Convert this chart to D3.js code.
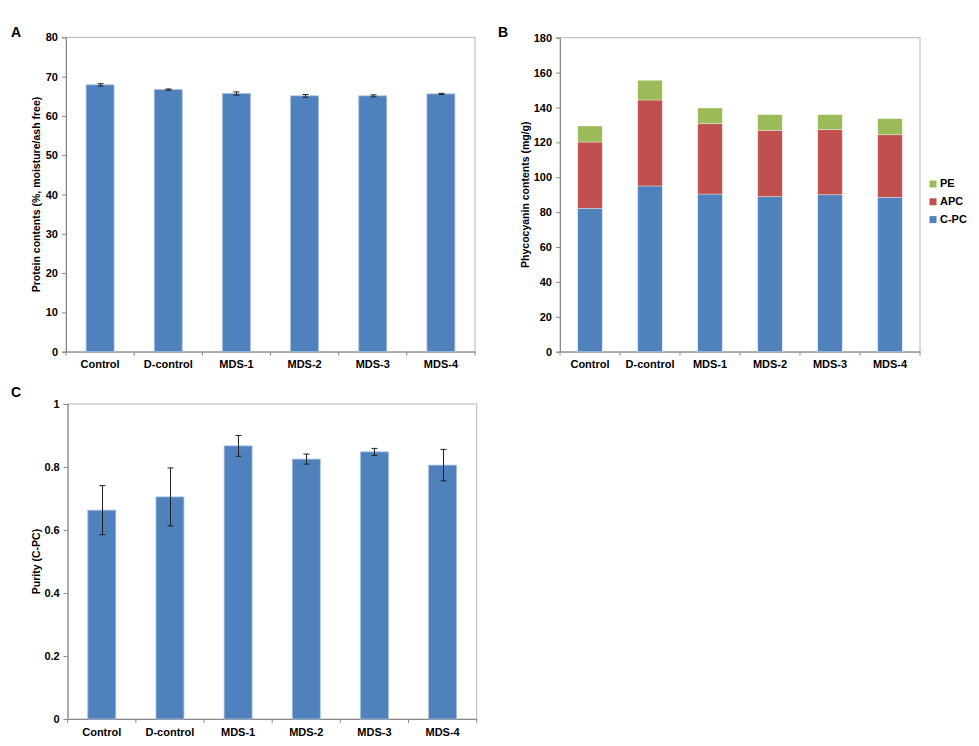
<!DOCTYPE html>
<html><head><meta charset="utf-8">
<script src="https://cdn.jsdelivr.net/npm/d3@7"></script>
<style>body{margin:0;background:#fff}svg{display:block}text{font-family:"Liberation Sans",Arial,sans-serif}</style>
</head><body><svg id="c" width="979" height="746"></svg>
<script>
const categories = ["Control","D-control","MDS-1","MDS-2","MDS-3","MDS-4"];
const proteinValues = [67.9, 66.7, 65.7, 65.1, 65.1, 65.6];
const proteinErrors = [0.3, 0.15, 0.4, 0.35, 0.25, 0.15];
const cpcValues = [82.2, 95.0, 90.4, 88.9, 90.0, 88.5];
const apcValues = [38.0, 49.3, 40.3, 38.0, 37.3, 35.9];
const peValues  = [9.2, 11.3, 9.0, 9.0, 8.6, 9.2];
const purityValues = [0.663, 0.705, 0.867, 0.825, 0.848, 0.806];
const purityErrors = [0.078, 0.092, 0.033, 0.016, 0.011, 0.05];
const ticksA = [0,10,20,30,40,50,60,70,80];
const ticksB = [0,20,40,60,80,100,120,140,160,180];
const ticksC = [0,0.2,0.4,0.6,0.8,1];
const seriesNames = ["C-PC","APC","PE"];
const seriesColors = ["#4F81BD","#C0504D","#9BBB59"];

const svg = d3.select("#c");
const frameColor = "#898989";

function panel(opt){
  const g = svg.append("g");
  const x = d3.scaleBand().domain(categories).range([opt.x0, opt.x1]).paddingInner(0.59).paddingOuter(0.295);
  const y = d3.scaleLinear().domain([0, opt.ymax]).range([opt.y1, opt.y0]);
  // frame
  g.append("rect").attr("x",opt.x0).attr("y",opt.y0).attr("width",opt.x1-opt.x0).attr("height",opt.y1-opt.y0)
    .attr("fill","none").attr("stroke","#b5b5b5").attr("stroke-width",1);
  // y axis
  const ya = g.append("g").attr("transform",`translate(${opt.x0},0)`)
    .call(d3.axisLeft(y).tickValues(opt.ticks).tickSize(4).tickPadding(4).tickFormat(d=>String(d)));
  ya.select(".domain").attr("stroke",frameColor);
  ya.selectAll(".tick line").attr("stroke",frameColor);
  ya.selectAll("text").attr("font-size",11).attr("font-weight","bold").attr("fill","#000");
  // x axis
  const xa = g.append("g").attr("transform",`translate(0,${opt.y1})`)
    .call(d3.axisBottom(x).tickSize(0).tickPadding(9));
  xa.select(".domain").attr("stroke",frameColor);
  xa.selectAll("text").attr("font-size",11).attr("font-weight","bold").attr("fill","#000");
  const step = x.step();
  const bounds = d3.range(categories.length+1).map(i => opt.x0 + i*step);
  g.selectAll(".xt").data(bounds).join("line").attr("x1",d=>d).attr("x2",d=>d)
    .attr("y1",opt.y1).attr("y2",opt.y1+4).attr("stroke",frameColor);
  // y title
  g.append("text").attr("transform",`translate(${opt.titleX},${(opt.y0+opt.y1)/2}) rotate(-90)`)
    .attr("text-anchor","middle").attr("dominant-baseline","middle")
    .attr("font-size",10.5).attr("font-weight","bold").text(opt.title);
  // letter
  g.append("text").attr("x",opt.lx).attr("y",opt.ly).attr("font-size",14).attr("font-weight","bold").text(opt.letter);
  return {g,x,y};
}

function errorBars(g,x,y,vals,errs){
  const cw = 3;
  const eg = g.append("g").attr("stroke","#222").attr("stroke-width",1);
  categories.forEach((c,i)=>{
    const cx = Math.round(x(c)+x.bandwidth()/2)+0.5;
    const t = y(vals[i]+errs[i]), b = y(vals[i]-errs[i]);
    eg.append("line").attr("x1",cx).attr("x2",cx).attr("y1",t).attr("y2",b);
    eg.append("line").attr("x1",cx-cw).attr("x2",cx+cw).attr("y1",t).attr("y2",t);
    eg.append("line").attr("x1",cx-cw).attr("x2",cx+cw).attr("y1",b).attr("y2",b);
  });
}

// Panel A
{
  const {g,x,y} = panel({x0:66,x1:475,y0:37.3,y1:351.7,ymax:80,ticks:ticksA,title:"Protein contents (%, moisture/ash free)",titleX:37,letter:"A",lx:11,ly:37});
  g.selectAll(".bar").data(proteinValues).join("rect")
    .attr("x",(d,i)=>x(categories[i])).attr("width",x.bandwidth())
    .attr("y",d=>y(d)).attr("height",d=>y(0)-y(d))
    .attr("fill",seriesColors[0]).attr("stroke","#a7bfde").attr("stroke-width",0.8);
  errorBars(g,x,y,proteinValues,proteinErrors);
}
// Panel B
{
  const {g,x,y} = panel({x0:560,x1:920,y0:37.7,y1:351.7,ymax:180,ticks:ticksB,title:"Phycocyanin contents (mg/g)",titleX:526.5,letter:"B",lx:498,ly:37});
  const rows = categories.map((c,i)=>({cat:c,"C-PC":cpcValues[i],"APC":apcValues[i],"PE":peValues[i]}));
  const stack = d3.stack().keys(seriesNames)(rows);
  stack.forEach((s,k)=>{
    g.append("g").selectAll("rect").data(s).join("rect")
      .attr("x",d=>x(d.data.cat)).attr("width",x.bandwidth())
      .attr("y",d=>y(d[1])).attr("height",d=>y(d[0])-y(d[1]))
      .attr("fill",seriesColors[k]).attr("stroke","rgba(255,255,255,0.45)").attr("stroke-width",0.8);
  });
  const legend = g.append("g");
  const order = [2,1,0];
  order.forEach((k,j)=>{
    const ly = 184 + j*17.8;
    legend.append("rect").attr("x",929.5).attr("y",ly-3.5).attr("width",7).attr("height",7).attr("fill",seriesColors[k]);
    legend.append("text").attr("x",940).attr("y",ly).attr("dominant-baseline","middle")
      .attr("font-size",11).attr("font-weight","bold").text(seriesNames[k]);
  });
}
// Panel C
{
  const {g,x,y} = panel({x0:67.7,x1:476.7,y0:404,y1:719,ymax:1,ticks:ticksC,title:"Purity (C-PC)",titleX:37,letter:"C",lx:11,ly:397});
  g.selectAll(".bar").data(purityValues).join("rect")
    .attr("x",(d,i)=>x(categories[i])).attr("width",x.bandwidth())
    .attr("y",d=>y(d)).attr("height",d=>y(0)-y(d))
    .attr("fill",seriesColors[0]).attr("stroke","#a7bfde").attr("stroke-width",0.8);
  errorBars(g,x,y,purityValues,purityErrors);
}
</script></body></html>
